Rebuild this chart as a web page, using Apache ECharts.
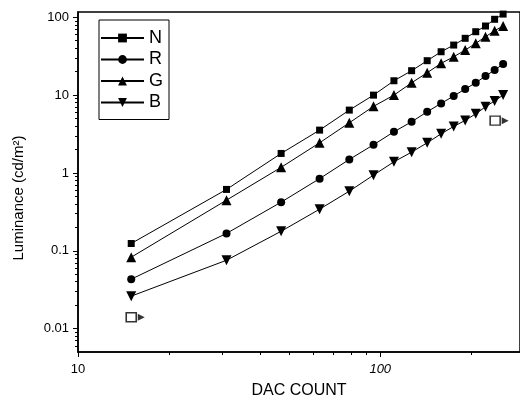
<!DOCTYPE html>
<html>
<head>
<meta charset="utf-8">
<script src="https://cdn.jsdelivr.net/npm/echarts@6/dist/echarts.min.js"></script>
<style>
html,body{margin:0;padding:0;background:#fff;}
#chart{width:520px;height:405px;}
</style>
</head>
<body>
<div id="chart"></div>
<script>
// DAC count values (same for all four curves)
var dacCount = [15, 31, 47, 63, 79, 95, 111, 127, 143, 159, 175, 191, 207, 223, 239, 255];
// luminance, cd/m2
var lumN = [0.124, 0.614, 1.78, 3.55, 6.42, 10.0, 15.3, 20.6, 27.7, 36.1, 44.0, 53.7, 65.3, 77.3, 94.3, 110];
var lumR = [0.0431, 0.167, 0.421, 0.845, 1.49, 2.30, 3.38, 4.54, 6.11, 7.83, 9.72, 12.0, 14.4, 17.6, 21.0, 25.1];
var lumG = [0.0826, 0.447, 1.18, 2.44, 4.41, 7.17, 10.0, 14.4, 19.4, 25.6, 31.1, 37.9, 46.3, 56.3, 67.3, 77.3];
var lumB = [0.0261, 0.0755, 0.178, 0.342, 0.583, 0.937, 1.39, 1.85, 2.44, 3.18, 3.96, 4.73, 5.75, 7.08, 8.43, 10.0];
// the two little open-square glyphs in the plot
var noteX = [15, 240];
var noteY = [0.014, 4.7];

var xMajor = [10, 100];
var xMinor = [20, 30, 40, 50, 60, 70, 80, 90, 200];
var yMajor = [0.01, 0.1, 1, 10, 100];
var yMinor = [0.006, 0.007, 0.008, 0.009, 0.02, 0.03, 0.04, 0.05, 0.06, 0.07, 0.08, 0.09,
              0.2, 0.3, 0.4, 0.5, 0.6, 0.7, 0.8, 0.9, 2, 3, 4, 5, 6, 7, 8, 9,
              20, 30, 40, 50, 60, 70, 80, 90];

function pairs(xs, ys){
    return xs.map(function(x, i){ return [x, ys[i]]; });
}

var font = "'Liberation Sans', Arial, sans-serif";
var myChart = echarts.init(document.getElementById('chart'));

function curve(name, data, symbol, size, rotate){
    return {
        name: name,
        type: 'line',
        data: pairs(dacCount, data),
        symbol: symbol,
        symbolSize: size,
        symbolRotate: rotate || 0,
        itemStyle: {color: '#000'},
        lineStyle: {color: '#000', width: 1},
        xAxisIndex: 0,
        yAxisIndex: 0
    };
}

var option = {
    animation: false,
    backgroundColor: '#fff',
    textStyle: {fontFamily: font, color: '#000'},
    grid: {
        left: 78, right: -4, top: 12, bottom: 53,
        show: true, borderColor: '#000', borderWidth: 1.5
    },
    legend: {
        data: ['N', 'R', 'G', 'B'],
        orient: 'vertical',
        left: 99, top: 20,
        padding: [9, 6, 8, 1],
        itemGap: 3.5,
        itemWidth: 43,
        itemHeight: 11,
        borderColor: '#000',
        borderWidth: 1,
        textStyle: {fontSize: 18, color: '#000', fontFamily: font}
    },
    xAxis: [{
        type: 'log', logBase: 10, min: 10, max: 290,
        position: 'bottom',
        name: 'DAC COUNT', nameLocation: 'middle', nameGap: 31,
        nameTextStyle: {fontSize: 16, color: '#000', fontFamily: font},
        axisLine: {lineStyle: {color: '#000', width: 1.5}},
        axisTick: {customValues: xMajor, length: 5, lineStyle: {color: '#000', width: 1}},
        axisLabel: {
            customValues: xMajor, margin: 11, fontSize: 13, color: '#000', fontFamily: font,
            formatter: function(v){ return v === 100 ? '{i|100}' : String(v); },
            rich: {i: {fontStyle: 'italic', fontSize: 13, fontFamily: font}}
        },
        splitLine: {show: false}
    }, {
        type: 'log', logBase: 10, min: 10, max: 290,
        position: 'bottom',
        axisLine: {show: false},
        axisTick: {customValues: xMinor, length: 3, lineStyle: {color: '#000', width: 1}},
        axisLabel: {show: false},
        splitLine: {show: false}
    }],
    yAxis: [{
        type: 'log', logBase: 10, min: 0.005, max: 117,
        position: 'left',
        name: 'Luminance (cd/m²)', nameLocation: 'middle', nameGap: 52, nameRotate: 90,
        nameTextStyle: {fontSize: 15, color: '#000', fontFamily: font, padding: [0, 32, 0, 0]},
        axisLine: {lineStyle: {color: '#000', width: 1.5}},
        axisTick: {customValues: yMajor, length: 5, lineStyle: {color: '#000', width: 1}},
        axisLabel: {
            customValues: yMajor, margin: 9, fontSize: 13, color: '#000', fontFamily: font,
            formatter: function(v){ return String(v); }
        },
        splitLine: {show: false}
    }, {
        type: 'log', logBase: 10, min: 0.005, max: 117,
        position: 'left',
        axisLine: {show: false},
        axisTick: {customValues: yMinor, length: 3, lineStyle: {color: '#000', width: 1}},
        axisLabel: {show: false},
        splitLine: {show: false}
    }],
    series: [
        curve('N', lumN, 'rect', 7),
        curve('R', lumR, 'circle', 8),
        curve('G', lumG, 'triangle', 10),
        curve('B', lumB, 'triangle', 10, 180),
        {
            name: 'note',
            type: 'scatter',
            data: pairs(noteX, noteY),
            symbol: 'rect',
            symbolSize: [10, 9],
            itemStyle: {color: '#fff', borderColor: '#000', borderWidth: 1.5},
            z: 3
        },
        {
            name: 'note-arrow',
            type: 'scatter',
            data: pairs(noteX, noteY),
            symbol: 'triangle',
            symbolSize: 7,
            symbolRotate: -90,
            symbolOffset: [10, 0],
            itemStyle: {color: '#000'},
            z: 3
        }
    ]
};

myChart.setOption(option);
</script>
</body>
</html>
